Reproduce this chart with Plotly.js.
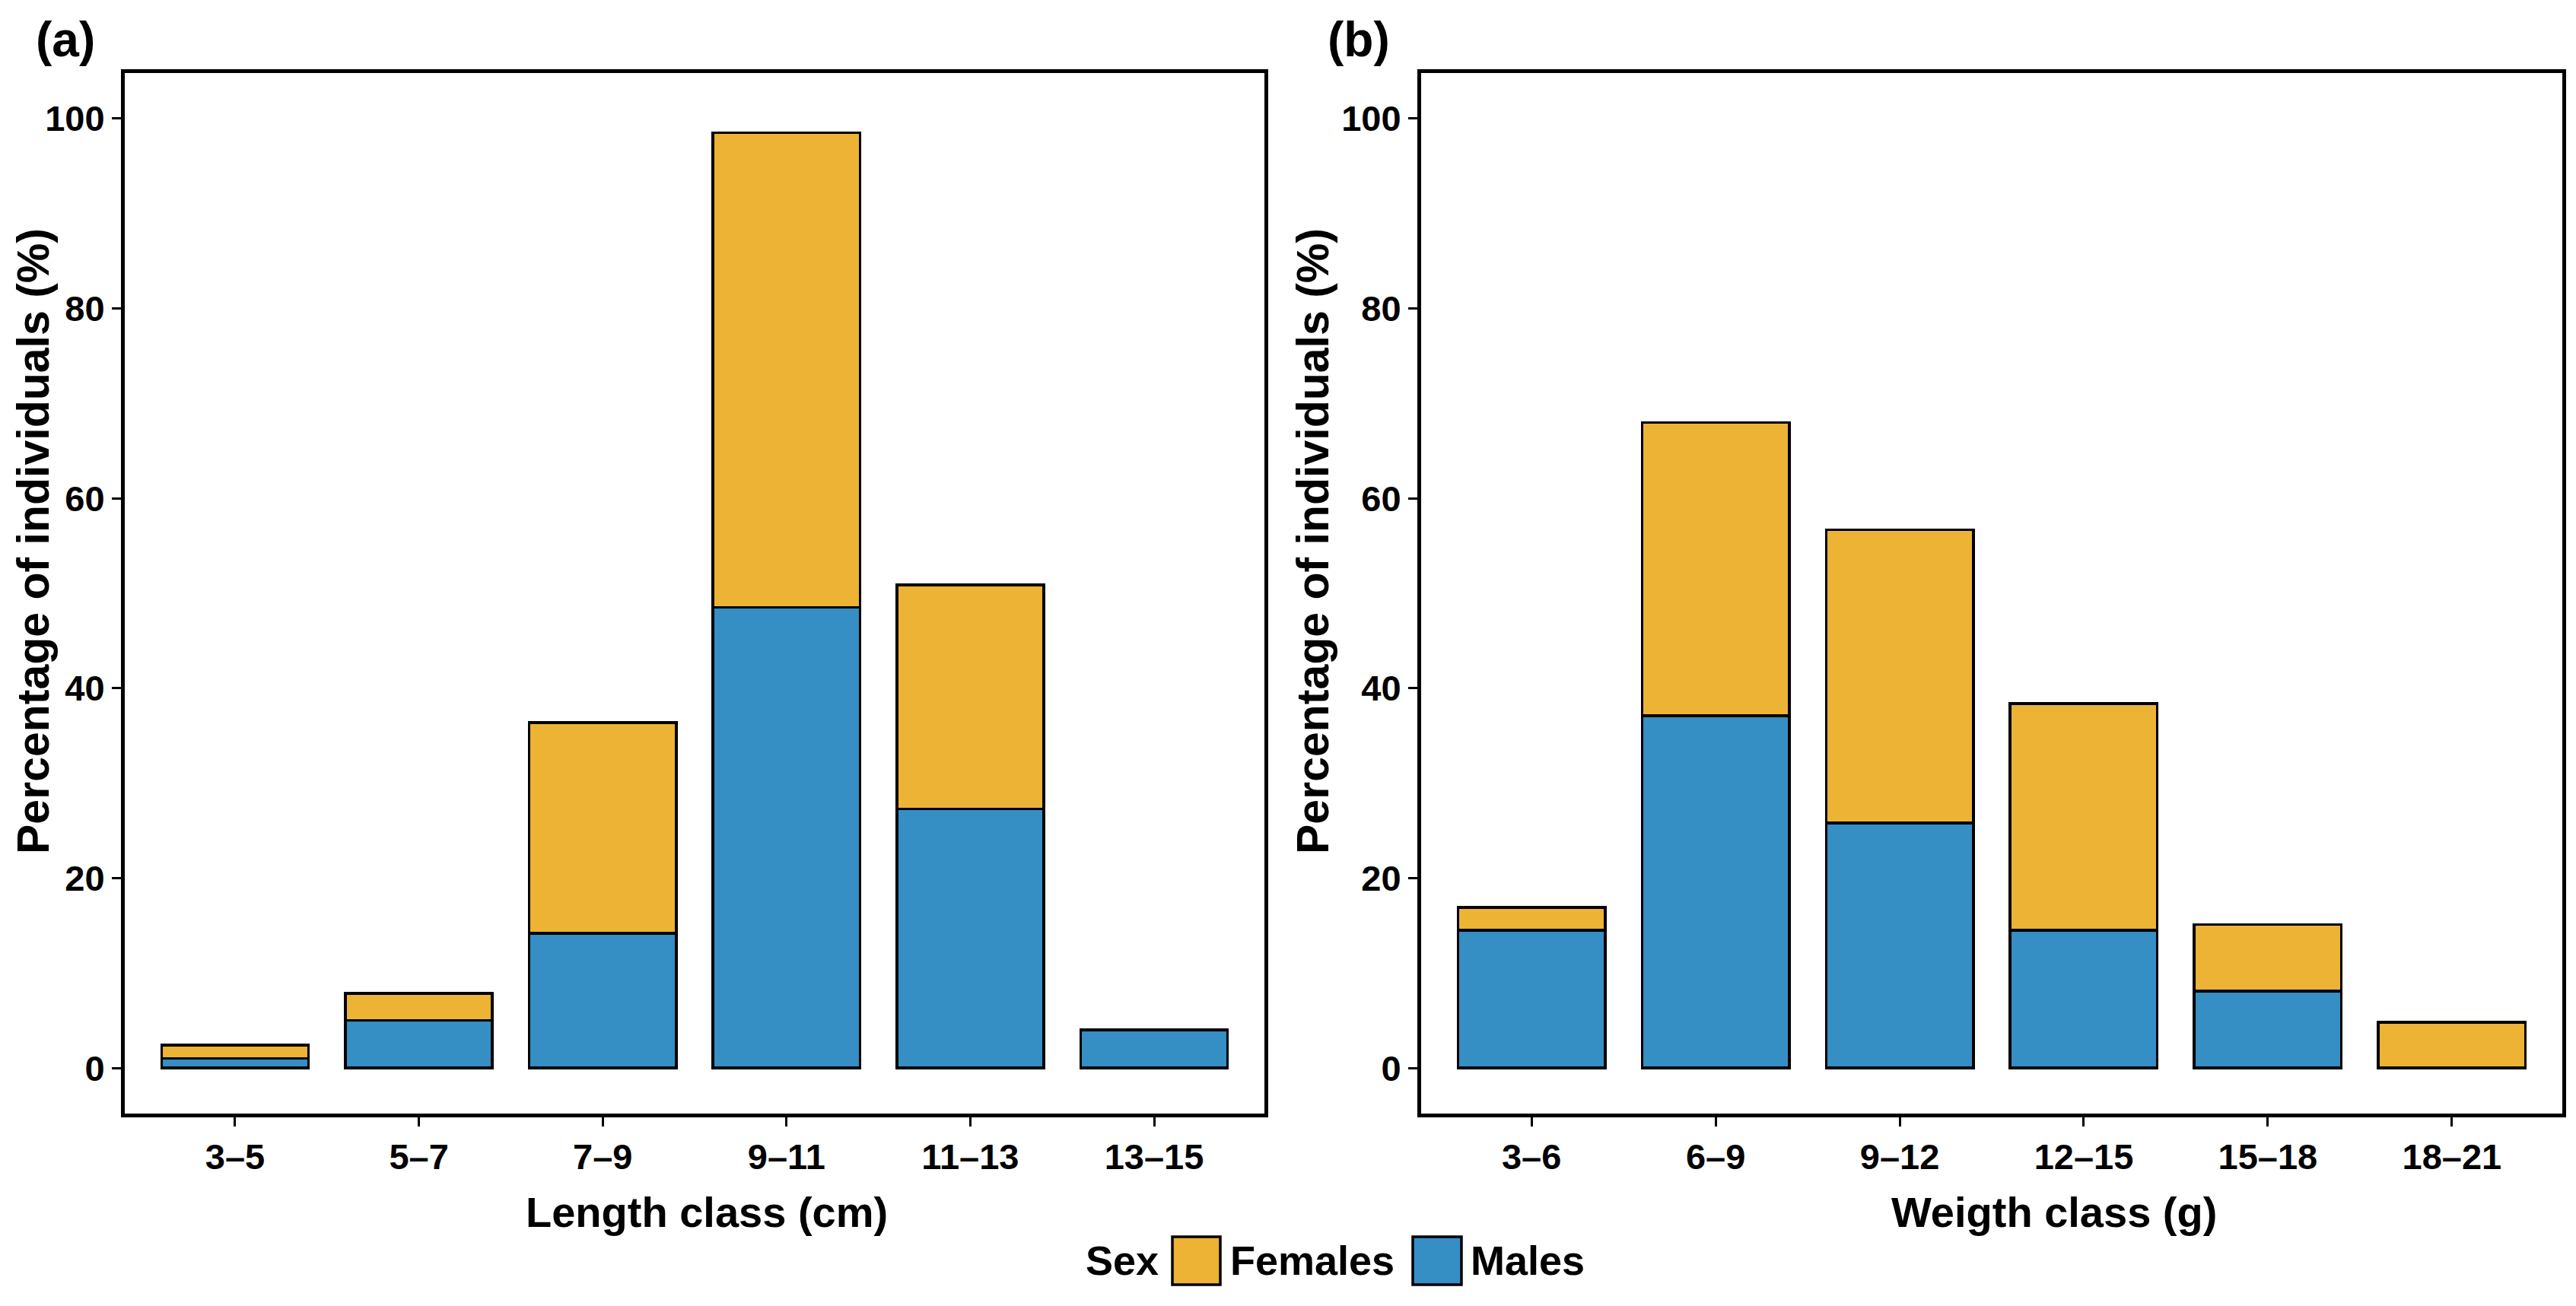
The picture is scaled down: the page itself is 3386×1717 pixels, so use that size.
<!DOCTYPE html>
<html>
<head>
<meta charset="utf-8">
<script src="https://cdn.plot.ly/plotly-3.0.1.min.js"></script>
<style>html,body{margin:0;padding:0;background:#fff;}#chart{width:3386px;height:1717px;}</style>
</head>
<body>
<div id="chart"></div>
<script>
// ---- Data ----
var lengthClasses = ["3\u20135", "5\u20137", "7\u20139", "9\u201311", "11\u201313", "13\u201315"];
var lengthMales   = [1.0, 5.0, 14.2, 48.5, 27.3, 4.0];
var lengthFemales = [1.4, 2.85, 22.2, 50.0, 23.6, 0];

var weightClasses = ["3\u20136", "6\u20139", "9\u201312", "12\u201315", "15\u201318", "18\u201321"];
var weightMales   = [14.5, 37.1, 25.8, 14.5, 8.1, 0];
var weightFemales = [2.4, 30.9, 30.9, 23.9, 7.0, 4.8];

var yTicks = [0, 20, 40, 60, 80, 100];
var seriesNames = ["Females", "Males"];
var yTitle = "Percentage of individuals (%)";
var xTitleA = "Length class (cm)";
var xTitleB = "Weigth class (g)";

// ---- Style ----
var W = 3386, H = 1717;
var colFemales = "#EDB335";
var colMales = "#358EC4";
var FONT = "Liberation Sans, Arial, Helvetica, sans-serif";
function px(x) { return x / W; }
function py(y) { return 1 - y / H; }

var barLine = {color: "#000", width: 3.5};

var traces = [
  {type: "bar", x: lengthClasses, y: lengthMales, name: seriesNames[1], xaxis: "x", yaxis: "y",
   marker: {color: colMales, line: barLine}, width: 0.8, showlegend: false},
  {type: "bar", x: lengthClasses, y: lengthFemales, name: seriesNames[0], xaxis: "x", yaxis: "y",
   marker: {color: colFemales, line: barLine}, width: 0.8, showlegend: false},
  {type: "bar", x: weightClasses, y: weightMales, name: seriesNames[1], xaxis: "x2", yaxis: "y2",
   marker: {color: colMales, line: barLine}, width: 0.8, showlegend: false},
  {type: "bar", x: weightClasses, y: weightFemales, name: seriesNames[0], xaxis: "x2", yaxis: "y2",
   marker: {color: colFemales, line: barLine}, width: 0.8, showlegend: false}
];

var tickFont = {family: FONT, size: 47, color: "#000", weight: 700};
var xTitleFont = {family: FONT, size: 56, color: "#000", weight: 700};
var yTitleFont = {family: FONT, size: 59, color: "#000", weight: 700};

function xAxis(domain, anchor) {
  return {
    domain: domain, anchor: anchor, type: "category", range: [-0.6, 5.6],
    showline: true, linewidth: 5, linecolor: "#000", mirror: true,
    ticks: "outside", ticklen: 12, tickwidth: 3, tickcolor: "#000",
    tickfont: tickFont, showgrid: false, zeroline: false, fixedrange: true
  };
}
function yAxis(anchor) {
  return {
    domain: [py(1464), py(96)], anchor: anchor, range: [-4.8, 104.8],
    tickvals: yTicks, ticktext: yTicks.map(String),
    showline: true, linewidth: 5, linecolor: "#000", mirror: true,
    ticks: "outside", ticklen: 12, tickwidth: 3, tickcolor: "#000",
    tickfont: tickFont, showgrid: false, zeroline: false, fixedrange: true
  };
}

var layout = {
  width: W, height: H,
  margin: {l: 0, r: 0, t: 0, b: 0, pad: 0},
  paper_bgcolor: "#fff", plot_bgcolor: "#fff",
  barmode: "stack", bargap: 0.2,
  showlegend: false,
  font: {family: FONT, color: "#000"},
  xaxis: xAxis([px(164), px(1662)], "y"),
  yaxis: yAxis("x"),
  xaxis2: xAxis([px(1868), px(3368)], "y2"),
  yaxis2: yAxis("x2"),
  shapes: [
    {type: "rect", xref: "paper", yref: "paper", x0: px(1541), x1: px(1604), y0: py(1689), y1: py(1626),
     fillcolor: colFemales, line: {color: "#000", width: 3.5}},
    {type: "rect", xref: "paper", yref: "paper", x0: px(1857), x1: px(1921), y0: py(1689), y1: py(1626),
     fillcolor: colMales, line: {color: "#000", width: 3.5}}
  ],
  annotations: [
    {text: "(a)", xref: "paper", yref: "paper", x: px(45), y: py(52), xanchor: "left", yanchor: "middle",
     showarrow: false, font: {family: FONT, size: 64, color: "#000", weight: 700}},
    {text: "(b)", xref: "paper", yref: "paper", x: px(1743), y: py(52), xanchor: "left", yanchor: "middle",
     showarrow: false, font: {family: FONT, size: 64, color: "#000", weight: 700}},
    {text: yTitle, xref: "paper", yref: "paper", x: px(44), y: py(712), xanchor: "center", yanchor: "middle",
     textangle: -90, showarrow: false, font: yTitleFont},
    {text: yTitle, xref: "paper", yref: "paper", x: px(1726), y: py(712), xanchor: "center", yanchor: "middle",
     textangle: -90, showarrow: false, font: yTitleFont},
    {text: xTitleA, xref: "paper", yref: "paper", x: px(929), y: py(1593), xanchor: "center", yanchor: "middle",
     showarrow: false, font: xTitleFont},
    {text: xTitleB, xref: "paper", yref: "paper", x: px(2700), y: py(1593), xanchor: "center", yanchor: "middle",
     showarrow: false, font: xTitleFont},
    {text: "Sex", xref: "paper", yref: "paper", x: px(1525), y: py(1657), xanchor: "right", yanchor: "middle",
     showarrow: false, font: {family: FONT, size: 54, color: "#000", weight: 700}},
    {text: seriesNames[0], xref: "paper", yref: "paper", x: px(1615), y: py(1657), xanchor: "left", yanchor: "middle",
     showarrow: false, font: {family: FONT, size: 54, color: "#000", weight: 700}},
    {text: seriesNames[1], xref: "paper", yref: "paper", x: px(1931), y: py(1657), xanchor: "left", yanchor: "middle",
     showarrow: false, font: {family: FONT, size: 54, color: "#000", weight: 700}}
  ]
};

Plotly.newPlot("chart", traces, layout, {displayModeBar: false, staticPlot: true});
</script>
</body>
</html>
